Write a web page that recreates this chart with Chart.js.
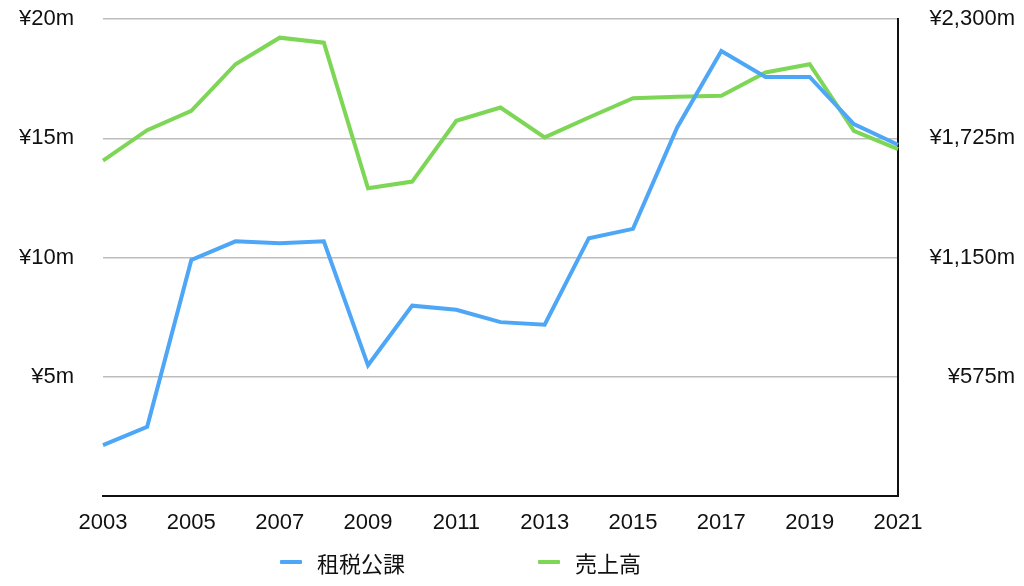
<!DOCTYPE html>
<html>
<head>
<meta charset="utf-8">
<script src="https://cdn.jsdelivr.net/npm/chart.js@4"></script>
<style>
  html, body { margin: 0; padding: 0; background: #fff; }
  #wrap { position: relative; width: 1024px; height: 586px; }
  #legend {
    position: absolute; left: 280px; top: 546px; height: 32px;
    display: flex; align-items: center;
    font-family: "Noto Sans CJK JP", sans-serif; font-size: 22px; color: #111;
  }
  #legend .item { display: flex; align-items: center; }
  #legend .item + .item { margin-left: 133px; }
  #legend .swatch { width: 22px; height: 4px; margin-right: 15px; border-radius: 1px; }
</style>
</head>
<body>
<div id="wrap">
  <canvas id="chart" width="1024" height="586"></canvas>
  <div id="legend"></div>
</div>
<script>
// === DATA ===
const years = ["2003", "2004", "2005", "2006", "2007", "2008", "2009", "2010", "2011", "2012",
  "2013", "2014", "2015", "2016", "2017", "2018", "2019", "2020", "2021"];

// 租税公課 (左軸, ¥m)
const taxes = [2.13, 2.90, 9.90, 10.68, 10.60, 10.68, 5.48, 7.98, 7.81, 7.29,
  7.18, 10.81, 11.20, 15.45, 18.66, 17.57, 17.57, 15.59, 14.73];

// 売上高 (右軸, ¥m)
const sales = [1617, 1764, 1857, 2082, 2210, 2186, 1484, 1516, 1809, 1873,
  1729, 1825, 1918, 1925, 1930, 2042, 2082, 1761, 1673];

const leftTicks = [0, 5, 10, 15, 20];
const rightTicks = [0, 575, 1150, 1725, 2300];

const seriesNames = ["租税公課", "売上高"];
const colors = ["#4ea6f6", "#7dd655"];

const font = { family: "'Liberation Sans', 'Noto Sans CJK JP', sans-serif", size: 22 };

// === LEGEND (HTML) ===
const legend = document.getElementById("legend");
seriesNames.forEach((name, i) => {
  const item = document.createElement("div");
  item.className = "item";
  item.innerHTML = `<span class="swatch" style="background:${colors[i]}"></span><span>${name}</span>`;
  legend.appendChild(item);
});

// no extra room for half labels at the ends of the y axes
const fixY = width => s => {
  s.width = width;
  s.paddingTop = 0;
  s.paddingBottom = 0;
};

// === CHART ===
const ctx = document.getElementById("chart").getContext("2d");
new Chart(ctx, {
  type: "line",
  data: {
    labels: years,
    datasets: [
      {
        label: seriesNames[0],
        data: taxes,
        yAxisID: "y",
        borderColor: colors[0],
        borderWidth: 4,
        pointRadius: 0,
        tension: 0,
        borderJoinStyle: "miter"
      },
      {
        label: seriesNames[1],
        data: sales,
        yAxisID: "y1",
        borderColor: colors[1],
        borderWidth: 4,
        pointRadius: 0,
        tension: 0,
        borderJoinStyle: "miter"
      }
    ]
  },
  options: {
    responsive: false,
    animation: false,
    layout: { padding: { top: 19, right: 9, bottom: 50, left: 0 } },
    plugins: {
      legend: { display: false },
      tooltip: { enabled: false }
    },
    scales: {
      x: {
        offset: false,
        grid: { display: false, drawTicks: false },
        border: { display: true, color: "#111", width: 2 },
        ticks: {
          font, color: "#111", padding: 14,
          autoSkip: false, maxRotation: 0,
          callback: (v, i) => (i % 2 === 0 ? years[i] : "")
        },
        afterFit: s => { s.height = 40; }
      },
      y: {
        position: "left",
        min: leftTicks[0],
        max: leftTicks[leftTicks.length - 1],
        afterBuildTicks: s => { s.ticks = leftTicks.map(v => ({ value: v })); },
        grid: { color: "#bdbdbd", lineWidth: 1.5, drawTicks: false },
        border: { display: false },
        ticks: {
          font, color: "#111", padding: 29,
          callback: v => (v === 0 ? "" : "¥" + v + "m")
        },
        afterFit: fixY(103)
      },
      y1: {
        position: "right",
        min: rightTicks[0],
        max: rightTicks[rightTicks.length - 1],
        afterBuildTicks: s => { s.ticks = rightTicks.map(v => ({ value: v })); },
        grid: { drawOnChartArea: false, drawTicks: false },
        border: { display: true, color: "#111", width: 2 },
        ticks: {
          font, color: "#111", padding: 20, crossAlign: "far",
          callback: v => (v === 0 ? "" : "¥" + v.toLocaleString("en-US") + "m")
        },
        afterFit: fixY(117)
      }
    }
  }
});
</script>
</body>
</html>
